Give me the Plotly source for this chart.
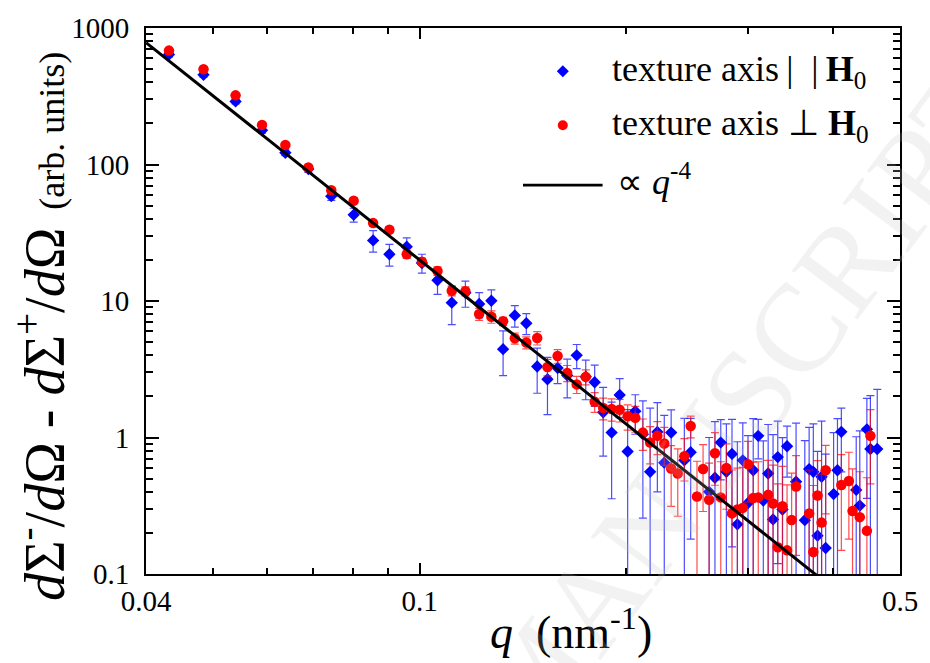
import plotly.graph_objects as go

# Magnetic SANS difference signal, two texture orientations
# texture axis parallel to H0 (blue diamonds)
q_par = [0.0432, 0.0485, 0.0540, 0.0590, 0.0638, 0.0689, 0.0744, 0.0802, 0.0856, 0.0904,
         0.0958, 0.1008, 0.1062, 0.1114, 0.1166, 0.1221, 0.1272, 0.1323, 0.1376, 0.1430,
         0.1483, 0.1535, 0.1588, 0.1640, 0.1693, 0.1745, 0.1798, 0.1850, 0.1903, 0.1955,
         0.2008, 0.2060, 0.2113, 0.2165, 0.2218, 0.2270, 0.2323, 0.2428, 0.2480, 0.2638,
         0.2690, 0.2743, 0.2795, 0.2848, 0.2900, 0.2953, 0.3005, 0.3058, 0.3110, 0.3163,
         0.3215, 0.3268, 0.3320, 0.3373, 0.3425, 0.3530, 0.3635, 0.3688, 0.3740, 0.3793,
         0.3845, 0.3898, 0.4003, 0.4055, 0.4108, 0.4318, 0.4370, 0.4475, 0.4528, 0.4633]
i_par = [640, 454, 290, 178, 122, 92.5, 58.6, 42.8, 27.8, 22.0,
         25.0, 19.0, 14.2, 9.72, 11.5, 9.51, 10.05, 4.44, 7.84, 6.87,
         3.31, 2.67, 3.23, 2.85, 4.00, 2.79, 2.54, 1.53, 1.086, 2.05,
         0.789, 1.556, 1.057, 0.56, 1.099, 0.654, 1.086, 0.68, 0.78, 0.40,
         0.507, 0.92, 0.56, 0.758, 0.231, 0.68, 0.331, 0.576, 1.028, 0.345,
         0.545, 0.251, 0.719, 0.297, 0.862, 0.475, 0.248, 0.587, 0.56, 0.191,
         0.516, 0.155, 0.385, 0.576, 1.10, 0.413, 0.317, 1.148, 0.824, 0.824]
e_par = [25, 18, 12, 8, 6, 5, 4, 5, 5, 4,
         4, 3, 3, 3, 2.5, 2, 2, 1.6, 1.4, 1.2,
         1.2, 1.2, 0.75, 0.9, 0.8, 0.9, 0.85, 0.8, 0.73, 0.65,
         0.81, 0.5, 0.8, 1.08, 0.7, 0.8, 0.51, 0.7, 0.6, 0.6,
         0.8, 0.43, 0.7, 0.6, 0.7, 0.6, 0.7, 0.8, 0.33, 0.6,
         0.7, 0.8, 0.6, 0.7, 0.35, 0.8, 0.7, 0.6, 0.7, 0.6,
         0.8, 0.6, 0.7, 0.8, 0.54, 0.6, 0.8, 0.79, 1.2, 1.43]

# texture axis perpendicular to H0 (red circles)
q_perp = [0.0432, 0.0485, 0.0540, 0.0590, 0.0638, 0.0689, 0.0744, 0.0802, 0.0856, 0.0904,
          0.0958, 0.1008, 0.1062, 0.1114, 0.1166, 0.1221, 0.1272, 0.1323, 0.1376, 0.1430,
          0.1483, 0.1535, 0.1588, 0.1640, 0.1693, 0.1745, 0.1798, 0.1850, 0.1903, 0.1955,
          0.2008, 0.2060, 0.2113, 0.2165, 0.2218, 0.2270, 0.2323, 0.2375, 0.2428, 0.2480,
          0.2533, 0.2585, 0.2638, 0.2690, 0.2743, 0.2795, 0.2848, 0.2900, 0.2953, 0.3005,
          0.3058, 0.3110, 0.3215, 0.3268, 0.3320, 0.3373, 0.3425, 0.3478, 0.3530, 0.3688,
          0.3740, 0.3793, 0.3845, 0.3898, 0.4108, 0.4213, 0.4265, 0.4370, 0.4475, 0.4528]
i_perp = [683, 499, 321, 195, 139, 95.2, 64.7, 54.2, 37.2, 33.3,
          22.0, 19.4, 16.6, 11.9, 11.8, 8.02, 7.67, 7.10, 5.33, 4.96,
          5.36, 3.28, 3.95, 2.97, 2.45, 2.78, 1.83, 1.644, 1.617, 1.599,
          1.432, 1.393, 1.086, 0.92, 1.028, 0.905, 0.593, 0.545, 0.730, 1.213,
          0.370, 0.587, 0.350, 0.767, 0.364, 0.598, 0.278, 0.297, 0.305, 0.636,
          0.360, 0.364, 0.380, 0.328, 0.157, 0.314, 0.149, 0.249, 0.437, 0.278,
          0.145, 0.376, 0.238, 0.576, 0.449, 0.480, 0.289, 0.261, 0.207, 1.028]
e_perp = [20, 15, 10, 6, 5, 3, 3, 2.5, 2, 1.8,
          1.5, 1.2, 1.2, 1.0, 0.9, 0.8, 0.8, 0.5, 0.5, 0.5,
          0.6, 0.45, 0.45, 0.4, 0.35, 0.35, 0.3, 0.3, 0.3, 0.3,
          0.3, 0.3, 0.28, 0.28, 0.28, 0.28, 0.28, 0.28, 0.25, 0.22,
          0.3, 0.3, 0.3, 0.32, 0.3, 0.3, 0.3, 0.3, 0.3, 0.3,
          0.3, 0.3, 0.3, 0.3, 0.3, 0.3, 0.3, 0.3, 0.3, 0.3,
          0.3, 0.3, 0.3, 0.3, 0.3, 0.3, 0.3, 0.3, 0.3, 0.57]

# Porod law guide line, I = A * q^-4
porod_prefactor = 0.002
q_porod = [0.04, 0.5]
i_porod = [porod_prefactor * q ** -4 for q in q_porod]

x_ticks = [0.04, 0.1, 0.5]
x_ticktext = ["0.04", "0.1", "0.5"]
x_minor = [0.05, 0.06, 0.07, 0.08, 0.09, 0.2, 0.3, 0.4]
y_ticks = [0.1, 1, 10, 100, 1000]
y_ticktext = ["0.1", "1", "10", "100", "1000"]
y_minor = [m * d for d in (0.1, 1, 10, 100) for m in range(2, 10)]

FONT = "Liberation Serif"
W, H = 930, 663
ML, MR, MT, MB = 146, 26, 18, 89
PW, PH = W - ML - MR, H - MT - MB


def px(x):
    return (x - ML) / PW


def py(y):
    return (H - MB - y) / PH


fig = go.Figure()

fig.add_trace(go.Scatter(
    x=q_par, y=i_par, mode="markers",
    marker=dict(symbol="diamond", size=9.5, color="#0000ff", line=dict(width=0)),
    error_y=dict(type="data", array=e_par, color="rgba(0,0,255,0.7)", thickness=1.2, width=4),
    showlegend=False,
))
fig.add_trace(go.Scatter(
    x=q_perp, y=i_perp, mode="markers",
    marker=dict(symbol="circle", size=10.5, color="#ff0000", line=dict(width=0)),
    error_y=dict(type="data", array=e_perp, color="rgba(255,0,0,0.7)", thickness=1.2, width=4),
    showlegend=False,
))
fig.add_trace(go.Scatter(
    x=q_porod, y=i_porod, mode="lines",
    line=dict(color="black", width=3),
    showlegend=False,
))

axis_common = dict(
    type="log", showgrid=False, zeroline=False,
    showline=True, linecolor="black", linewidth=2, mirror="allticks",
    ticks="inside", tickcolor="black", tickwidth=1.5,
    tickfont=dict(family=FONT, size=29, color="black"),
)

fig.update_xaxes(
    **axis_common,
    range=[-1.39794, -0.30103],
    tickmode="array", tickvals=x_ticks, ticktext=x_ticktext, ticklen=11,
    minor=dict(tickmode="array", tickvals=x_minor, ticks="inside", ticklen=6,
               tickcolor="black", tickwidth=1.5),
)
fig.update_yaxes(
    **axis_common,
    range=[-1, 3],
    tickmode="array", tickvals=y_ticks, ticktext=y_ticktext, ticklen=13,
    ticklabelstandoff=9,
    minor=dict(tickmode="array", tickvals=y_minor, ticks="inside", ticklen=7,
               tickcolor="black", tickwidth=1.5),
)

# custom legend
shapes = [
    dict(type="path", xref="paper", yref="paper", xsizemode="pixel", ysizemode="pixel",
         xanchor=px(565), yanchor=py(62), path="M -6 0 L 0 6 L 6 0 L 0 -6 Z",
         fillcolor="#0000ff", line=dict(width=0)),
    dict(type="circle", xref="paper", yref="paper", xsizemode="pixel", ysizemode="pixel",
         xanchor=px(565), yanchor=py(117), x0=-5, x1=5, y0=-5, y1=5,
         fillcolor="#ff0000", line=dict(width=0)),
    dict(type="line", xref="paper", yref="paper",
         x0=px(525), x1=px(605), y0=py(178), y1=py(178),
         line=dict(color="black", width=2.7)),
]

annotations = [
    dict(text="texture axis\u2009|\u2002|\u2009<b>H</b><sub>0</sub>", x=px(612), y=py(62),
         xanchor="left", yanchor="middle"),
    dict(text="texture axis \u22a5 <b>H</b><sub>0</sub>", x=px(612), y=py(117),
         xanchor="left", yanchor="middle"),
    dict(text="\u221d <i>q</i><sup>-4</sup>", x=px(617), y=py(172),
         xanchor="left", yanchor="middle"),
]
for a in annotations:
    a.update(xref="paper", yref="paper", showarrow=False,
             font=dict(family=FONT, size=36, color="black"))

# axis titles
annotations.append(dict(
    text="<i>q</i>  (nm<sup>-1</sup>)", x=px(573), y=py(630),
    xref="paper", yref="paper", showarrow=False, xanchor="center", yanchor="middle",
    font=dict(family=FONT, size=46, color="black"),
))
annotations.append(dict(
    text=('<span style="font-size:56px"><i>d</i>\u03a3<sup>-</sup>/<i>d</i>\u03a9 - '
          '<i>d</i>\u03a3<sup>+</sup>/<i>d</i>\u03a9</span>'
          '<span style="font-size:36px">  (arb. units)</span>'),
    x=px(40), y=py(322), textangle=-90,
    xref="paper", yref="paper", showarrow=False, xanchor="center", yanchor="middle",
    font=dict(family=FONT, size=36, color="black"),
))
# faint diagonal watermark
annotations.append(dict(
    text="MANUSCRIPT", x=px(745), y=py(400), textangle=-53,
    xref="paper", yref="paper", showarrow=False, xanchor="center", yanchor="middle",
    font=dict(family=FONT, size=125, color="rgba(190,190,190,0.2)"),
))

fig.update_layout(
    width=W, height=H,
    margin=dict(l=ML, r=MR, t=MT, b=MB),
    paper_bgcolor="white", plot_bgcolor="white",
    shapes=shapes, annotations=annotations,
    showlegend=False,
)

fig.write_html("out.html")
